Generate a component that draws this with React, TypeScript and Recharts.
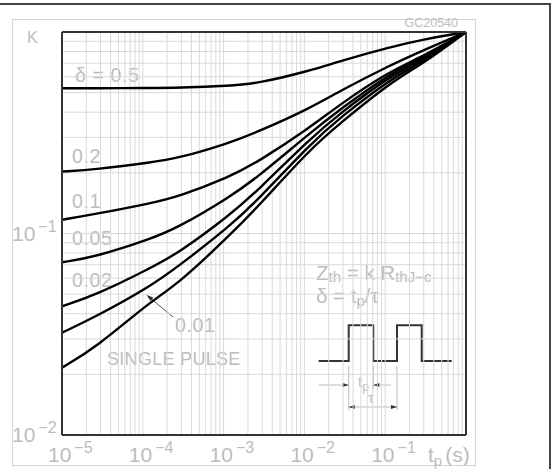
import React from 'react';
import { LineChart, Line, XAxis, YAxis, ReferenceLine, Customized } from 'recharts';

// pulse duration tp (s)
const tp = [1e-5, 2.64e-5, 1.23e-4, 2.73e-4, 1.2e-3, 2.67e-3, 1.17e-2, 2.76e-2, 0.1146, 0.3, 1];

// K for each duty cycle
const kD05 = [0.526, 0.526, 0.527, 0.528, 0.541, 0.556, 0.642, 0.718, 0.842, 0.92, 1];
const kD02 = [0.203, 0.208, 0.225, 0.236, 0.282, 0.32, 0.418, 0.51, 0.684, 0.814, 1];
const kD01 = [0.117, 0.125, 0.141, 0.152, 0.191, 0.227, 0.335, 0.438, 0.64, 0.76, 1];
const kD005 = [0.072, 0.0767, 0.0936, 0.107, 0.152, 0.191, 0.315, 0.413, 0.624, 0.748, 1];
const kD002 = [0.0435, 0.0495, 0.0672, 0.0797, 0.1235, 0.164, 0.295, 0.395, 0.605, 0.734, 1];
const kD001 = [0.0322, 0.0387, 0.0545, 0.0685, 0.109, 0.147, 0.277, 0.376, 0.582, 0.718, 1];
const kSingle = [0.0216, 0.0272, 0.0459, 0.0561, 0.0983, 0.136, 0.262, 0.352, 0.56, 0.7, 1];

const data = tp.map((t, i) => ({
  t,
  d05: kD05[i],
  d02: kD02[i],
  d01: kD01[i],
  d005: kD005[i],
  d002: kD002[i],
  d001: kD001[i],
  single: kSingle[i],
}));

const seriesKeys = ['d05', 'd02', 'd01', 'd005', 'd002', 'd001', 'single'];

const xTicks = [1e-5, 1e-4, 1e-3, 1e-2, 1e-1];
const yTicks = [0.01, 0.1];
const minor = [1, 2, 3, 4, 5, 6, 7, 8, 9];
const gridX = xTicks.flatMap((d) => minor.map((m) => +(m * d).toPrecision(6))).concat(1);
const gridY = yTicks.flatMap((d) => minor.map((m) => +(m * d).toPrecision(6))).concat(1);

const LIGHT = '#bdbdbd';
const DARK = '#333';
const FONT = '"Liberation Sans", Arial, sans-serif';

const XTick = ({ x, y, payload }: any) => {
  const e = Math.round(Math.log10(payload.value));
  return (
    <text x={x - 14} y={y + 27} fill={LIGHT} fontSize={21} fontFamily={FONT}>
      10
      <tspan dx={3} dy={-9} fontSize={16}>{'−' + Math.abs(e)}</tspan>
    </text>
  );
};

const YTick = ({ x, y, payload }: any) => {
  const e = Math.round(Math.log10(payload.value));
  return (
    <text x={x - 50} y={y + 7} fill={LIGHT} fontSize={21} fontFamily={FONT}>
      10
      <tspan dx={3} dy={-9} fontSize={16}>{'−' + Math.abs(e)}</tspan>
    </text>
  );
};

// white boxes behind the curve labels, then the labels
const labelBoxes = [
  [63, 64, 80, 23],
  [63, 145, 42, 24],
  [63, 190, 42, 24],
  [63, 224, 52, 25],
  [63, 268, 52, 25],
  [170, 311, 50, 28],
  [100, 341, 140, 34],
];
const curveLabels = ['δ = 0.5', '0.2', '0.1', '0.05', '0.02', '0.01', 'SINGLE PULSE'];
const labelPos = [
  [75, 82],
  [72, 163],
  [72, 208],
  [72, 245],
  [72, 287],
  [175, 332],
  [107, 365],
];

const Backdrop = () => (
  <g>
    {labelBoxes.map(([x, y, w, h], i) => (
      <rect key={i} x={x} y={y} width={w} height={h} fill="#fff" />
    ))}
    <rect x={305.5} y={234.5} width={159.5} height={199.5} fill="#fff" />
  </g>
);

const Arrow = ({ x, y, dir }: { x: number; y: number; dir: number }) => (
  <path d={`M${x} ${y} L${x - dir * 6} ${y - 2} L${x - dir * 6} ${y + 2} Z`} fill={DARK} />
);

const Overlay = () => (
  <g fontFamily={FONT}>
    {/* outer frames */}
    <line x1={0} y1={4} x2={551} y2={4} stroke="#444" strokeWidth={2} />
    <line x1={550} y1={4} x2={550} y2={469} stroke="#444" strokeWidth={2} />
    <rect x={12.5} y={19.5} width={463} height={446} fill="none" stroke="#d6d6d6" strokeWidth={1} />
    <text x={458} y={27} textAnchor="end" fill={LIGHT} fontSize={12.5}>GC20540</text>
    <text x={27} y={43} fill={LIGHT} fontSize={16}>K</text>
    <text x={428} y={462} fill={LIGHT} fontSize={21}>
      t<tspan fontSize={15} dy={4}>p</tspan>
      <tspan fontSize={21} dx={3} dy={-4}>(s)</tspan>
    </text>

    {curveLabels.map((s, i) => (
      <text
        key={s}
        x={labelPos[i][0]}
        y={labelPos[i][1]}
        fill={LIGHT}
        fontSize={i === 6 ? 18 : 19.5}
        letterSpacing={i === 6 ? 0.3 : 0.6}
      >
        {s}
      </text>
    ))}
    {/* pointer to the 0.01 curve */}
    <line x1={173} y1={317} x2={149} y2={297} stroke="#555" strokeWidth={1} />
    <path d="M146.5 295 L153.5 297.5 L150.5 301 Z" fill={DARK} />

    {/* inset */}
    <text x={316} y={280} fill={LIGHT} fontSize={20.5}>
      Z<tspan fontSize={15} dy={2}>th</tspan>
      <tspan fontSize={20.5} dy={-2}> = k R</tspan>
      <tspan fontSize={15} dy={2}>thJ−c</tspan>
    </text>
    <text x={316} y={303} fill={LIGHT} fontSize={20.5}>
      δ = t<tspan fontSize={15} dy={3}>p</tspan>
      <tspan fontSize={20.5} dy={-3}>/τ</tspan>
    </text>
    <path
      d="M318.7 361 H348.7 V325.3 H373.3 V361 H397 V325.3 H421.7 V361 H451.7"
      fill="none"
      stroke={DARK}
      strokeWidth={2}
    />
    <g stroke="#bbb" strokeWidth={1}>
      <line x1={348.7} y1={366} x2={348.7} y2={410} />
      <line x1={373.3} y1={366} x2={373.3} y2={389} />
      <line x1={397} y1={366} x2={397} y2={410} />
      <line x1={318.7} y1={385} x2={348.7} y2={385} />
      <line x1={373.3} y1={385} x2={391} y2={385} />
      <line x1={348.7} y1={407} x2={397} y2={407} />
    </g>
    <Arrow x={348.7} y={385} dir={1} />
    <Arrow x={373.3} y={385} dir={-1} />
    <Arrow x={348.7} y={407} dir={-1} />
    <Arrow x={397} y={407} dir={1} />
    <text x={358} y={387} fill={LIGHT} fontSize={15}>
      t<tspan fontSize={12} dy={4}>p</tspan>
    </text>
    <text x={368} y={403} fill={LIGHT} fontSize={15}>τ</text>
  </g>
);

export default function App() {
  return (
    <div style={{ position: 'absolute', left: 0, top: 0, background: '#fff' }}>
      <LineChart width={552} height={469} data={data} margin={{ top: 32, right: 86, bottom: 4, left: 12 }}>
        <XAxis
          dataKey="t"
          type="number"
          scale="log"
          domain={[1e-5, 1]}
          allowDataOverflow
          ticks={xTicks}
          tick={<XTick />}
          tickSize={0}
          tickMargin={0}
          axisLine={false}
          height={30}
          interval={0}
        />
        <YAxis
          type="number"
          scale="log"
          domain={[0.01, 1]}
          allowDataOverflow
          ticks={yTicks}
          tick={<YTick />}
          tickSize={0}
          tickMargin={0}
          axisLine={false}
          width={50}
          interval={0}
        />
        {gridX.map((v) => (
          <ReferenceLine key={'x' + v} x={v} stroke="#d9d9d9" strokeWidth={1} />
        ))}
        {gridY.map((v) => (
          <ReferenceLine key={'y' + v} y={v} stroke="#d9d9d9" strokeWidth={1} />
        ))}
        <Customized component={Backdrop} />
        {seriesKeys.map((k) => (
          <Line
            key={k}
            dataKey={k}
            type="basis"
            stroke="#000"
            strokeWidth={2.4}
            dot={false}
            isAnimationActive={false}
          />
        ))}
        <ReferenceLine x={1e-5} stroke={DARK} strokeWidth={2} />
        <ReferenceLine x={1} stroke={DARK} strokeWidth={2} />
        <ReferenceLine y={0.01} stroke={DARK} strokeWidth={2} />
        <ReferenceLine y={1} stroke={DARK} strokeWidth={2} />
        <Customized component={Overlay} />
      </LineChart>
    </div>
  );
}
